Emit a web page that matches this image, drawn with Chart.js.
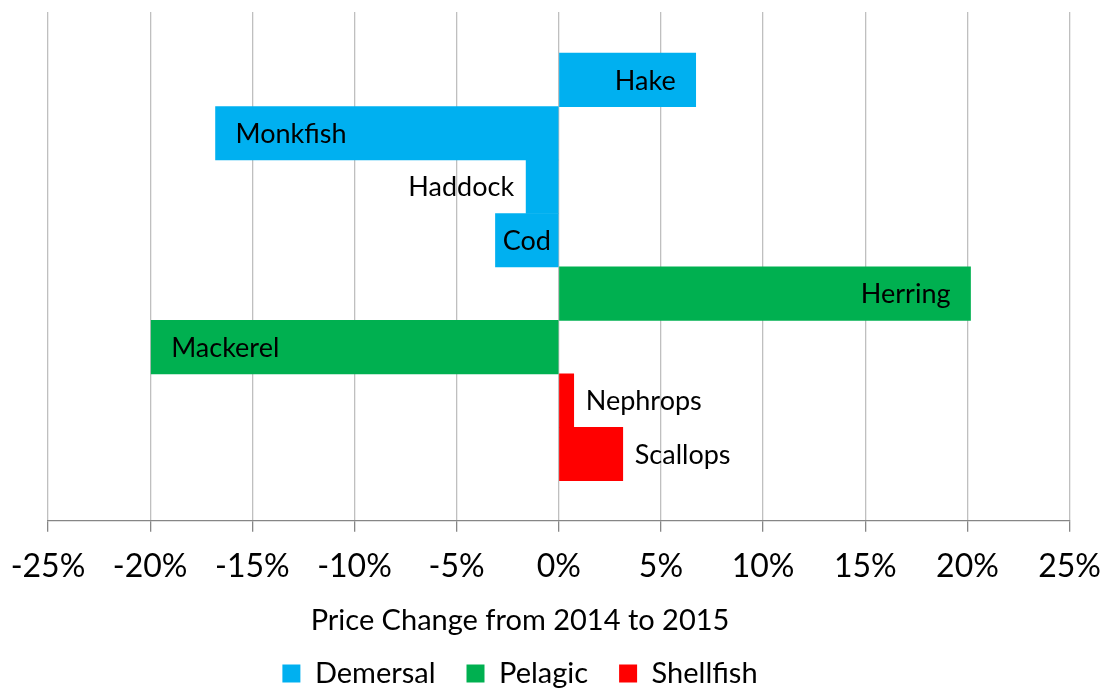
<!DOCTYPE html>
<html>
<head>
<meta charset="utf-8">
<script src="https://cdn.jsdelivr.net/npm/chart.js@4.4.1/dist/chart.umd.min.js"></script>
<style>
  html, body { margin: 0; padding: 0; background: #ffffff; }
  #wrap { width: 1108px; height: 689px; position: relative; }
</style>
</head>
<body>
<div id="wrap"><canvas id="c"></canvas></div>
<script>
// ---- data ----
const categories = ['Hake', 'Monkfish', 'Haddock', 'Cod', 'Herring', 'Mackerel', 'Nephrops', 'Scallops'];
const speciesGroup = ['Demersal', 'Demersal', 'Demersal', 'Demersal', 'Pelagic', 'Pelagic', 'Shellfish', 'Shellfish'];
const priceChangePct = [6.7, -16.8, -1.6, -3.1, 20.15, -19.95, 0.73, 3.13];
const groupNames = ['Demersal', 'Pelagic', 'Shellfish'];
const xTicks = [-25, -20, -15, -10, -5, 0, 5, 10, 15, 20, 25];
const axisTitle = 'Price Change from 2014 to 2015';

// ---- styles ----
const groupColors = { Demersal: '#00B0F0', Pelagic: '#00B050', Shellfish: '#FF0000' };
const FONT = 'Lato, "Open Sans", sans-serif';

const datasets = groupNames.map(g => ({
  label: g,
  backgroundColor: groupColors[g],
  borderWidth: 0,
  data: categories.map((c, i) => speciesGroup[i] === g ? { x: priceChangePct[i], y: i, name: c } : null).filter(d => d)
}));

const barLabels = {
  id: 'barLabels',
  afterDatasetsDraw(chart) {
    const ctx = chart.ctx;
    ctx.save();
    ctx.font = '27px ' + FONT;
    ctx.fillStyle = '#000';
    ctx.textBaseline = 'middle';
    chart.data.datasets.forEach((ds, di) => {
      const meta = chart.getDatasetMeta(di);
      meta.data.forEach((el, j) => {
        const name = ds.data[j].name;
        const w = ctx.measureText(name).width;
        const end = el.x, base = el.base;
        const barW = Math.abs(end - base);
        const dir = end >= base ? 1 : -1;
        let x, align;
        if (w + 10 < barW) {
          const pad = Math.min(20, (barW - w) / 2);
          x = end - dir * pad;
          align = dir > 0 ? 'right' : 'left';
        } else {
          x = end + dir * 12;
          align = dir > 0 ? 'left' : 'right';
        }
        ctx.textAlign = align;
        ctx.fillText(name, x, el.y + 1);
      });
    });
    ctx.restore();
  }
};

const shiftBottom = {
  id: 'shiftBottom',
  afterLayout(chart) {
    const dx = -39;
    const shifts = [[chart.legend, -13.6], [chart.titleBlock, -3.1]];
    shifts.forEach(([b, dy]) => {
      if (b) { b.left += dx; b.right += dx; b.top += dy; b.bottom += dy; }
    });
  }
};

new Chart(document.getElementById('c'), {
  type: 'bar',
  data: { datasets },
  plugins: [barLabels, shiftBottom],
  options: {
    indexAxis: 'y',
    responsive: true,
    maintainAspectRatio: false,
    animation: false,
    barPercentage: 1,
    categoryPercentage: 1,
    layout: { padding: { top: 12, left: 48, right: 38, bottom: -22.6 } },
    scales: {
      x: {
        type: 'linear',
        min: -25, max: 25,
        stacked: true,
        afterBuildTicks(scale) { scale.ticks = xTicks.map(v => ({ value: v })); },
        ticks: {
          callback: v => v + '%',
          color: '#000',
          font: { family: FONT, size: 32, lineHeight: 1.72 },
          padding: 7,
          maxRotation: 0
        },
        grid: { color: '#BFBFBF', lineWidth: 1.3, tickLength: 11, tickColor: '#868686', tickWidth: 1.3 },
        border: { color: '#868686', width: 1.3 }
      },
      y: {
        type: 'linear',
        reverse: true,
        stacked: true,
        offset: false,
        min: -1.27, max: 8.25,
        afterBuildTicks(scale) { scale.ticks = categories.map((c, i) => ({ value: i })); },
        display: false
      }
    },
    plugins: {
      legend: {
        position: 'bottom',
        labels: {
          boxWidth: 18, boxHeight: 18,
          color: '#000',
          font: { family: FONT, size: 29 },
          padding: 31
        }
      },
      title: {
        display: true,
        text: axisTitle,
        position: 'bottom',
        weight: 500,
        color: '#000',
        font: { family: FONT, size: 29, weight: 'normal' },
        padding: { top: 6, bottom: 0 }
      },
      tooltip: { enabled: false }
    }
  }
});
</script>
</body>
</html>
